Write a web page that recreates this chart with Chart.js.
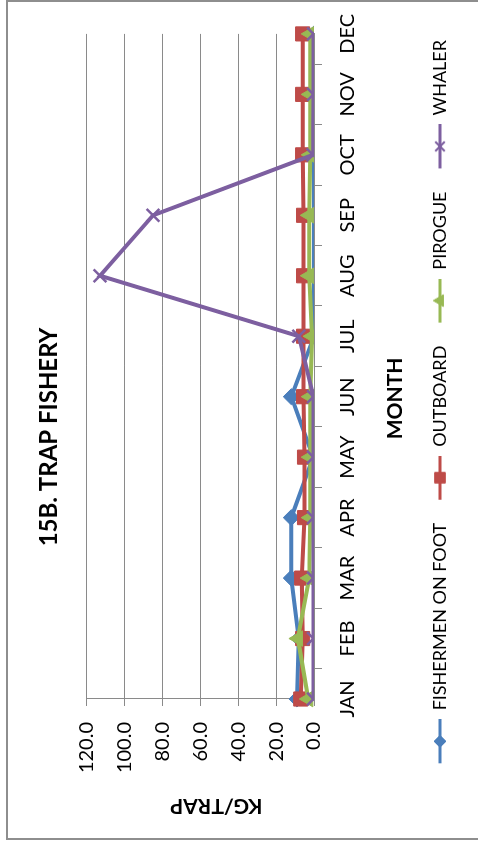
<!DOCTYPE html>
<html>
<head>
<meta charset="utf-8">
<script src="https://cdn.jsdelivr.net/npm/chart.js@4.4.1/dist/chart.umd.min.js"></script>
<style>
  html, body { margin: 0; padding: 0; background: #fff; overflow: hidden; }
  #page {
    position: absolute; left: 0; top: 0; width: 844px; height: 478px;
    transform-origin: 0 0; transform: translateY(844px) rotate(-90deg);
  }
  #frame {
    position: absolute; left: 4px; top: 6px; width: 840px; height: 490px;
    border: 2px solid #8e8e8e; box-sizing: border-box;
  }
  #chart { position: absolute; left: 0; top: 0; width: 844px; height: 478px; }
</style>
</head>
<body>
<div id="page">
  <div id="frame"></div>
  <canvas id="chart" width="844" height="478"></canvas>
</div>
<script>
const months = ["JAN", "FEB", "MAR", "APR", "MAY", "JUN", "JUL", "AUG", "SEP", "OCT", "NOV", "DEC"];
const seriesNames = ["FISHERMEN ON FOOT", "OUTBOARD", "PIROGUE", "WHALER"];
const footValues = [9, 8, 12, 12, 0.5, 12, 0, 0, 0, 0, 0, 0];
const outboardValues = [7, 6, 6.5, 5, 5, 5.5, 5.5, 5.5, 5.5, 6, 6, 6];
const pirogueValues = [3, 8.5, 2.5, 2, 2, 2, 1, 2.5, 2.5, 2, 2, 2];
const whalerValues = [0.3, 0.3, 0.3, 0.3, 0.3, 0.3, 8, 113, 85, 0.5, 0.3, 0.3];
const yMin = 0, yMax = 120, yStep = 20;

const colors = ["#4a7ebb", "#be4b48", "#98b954", "#7d5fa0"];
const markers = ["rectRot", "rect", "triangle", "crossRot"];
const markerSizes = [8, 10, 9, 9];
const FONT = "Lato";
const LEGEND_GAP = 13;   // empty space before each legend sample
const SAMPLE_W = 44;     // length of the legend line sample

// line + marker picture for each legend entry (blank gap on its left)
const makeIcon = (i) => {
    const c = document.createElement("canvas");
    c.width = LEGEND_GAP + SAMPLE_W;
    c.height = 18;
    const ctx = c.getContext("2d");
    ctx.strokeStyle = colors[i];
    ctx.lineWidth = 3;
    ctx.beginPath();
    ctx.moveTo(LEGEND_GAP, 9);
    ctx.lineTo(LEGEND_GAP + SAMPLE_W, 9);
    ctx.stroke();
    ctx.fillStyle = colors[i];
    ctx.lineWidth = markers[i] === "crossRot" ? 2 : 1;
    Chart.helpers.drawPoint(ctx, {pointStyle: markers[i], radius: markerSizes[i] * 0.75, rotation: 0, borderWidth: ctx.lineWidth}, LEGEND_GAP + SAMPLE_W / 2, 9);
    return c;
};
const icons = seriesNames.map((n, i) => makeIcon(i));

// move an axis title a little, the way the original places it
const shiftTitle = (scale, dx, dy) => {
    if (scale._titleShifted) return;
    const draw = scale.drawTitle;
    scale.drawTitle = function () {
        this.ctx.save();
        this.ctx.translate(dx, dy);
        draw.call(this);
        this.ctx.restore();
    };
    scale._titleShifted = true;
};

const allValues = [footValues, outboardValues, pirogueValues, whalerValues];
const datasets = allValues.map((values, i) => ({
    label: seriesNames[i],
    data: values,
    borderColor: colors[i],
    backgroundColor: colors[i],
    borderWidth: 4,
    tension: 0,
    pointStyle: markers[i],
    pointRadius: markerSizes[i],
    pointBorderWidth: markers[i] === "crossRot" ? 2.5 : 1,
    pointBackgroundColor: colors[i],
    pointBorderColor: colors[i],
    order: 4 - i
}));

new Chart(document.getElementById("chart"), {
    type: "line",
    data: {labels: months, datasets: datasets},
    options: {
        responsive: false,
        animation: false,
        layout: {padding: {left: 0, right: 30, top: 0, bottom: 19}},
        plugins: {
            tooltip: {enabled: false},
            title: {
                display: true,
                text: "15B. TRAP FISHERY",
                color: "#000",
                font: {family: FONT, size: 24, weight: "bold"},
                padding: {top: 35, bottom: 23}
            },
            legend: {
                position: "bottom",
                align: "end",
                labels: {
                    usePointStyle: true,
                    pointStyleWidth: LEGEND_GAP + SAMPLE_W,
                    color: "#000",
                    font: {family: FONT, size: 18},
                    padding: 10,
                    generateLabels: (chart) => {
                        const items = Chart.defaults.plugins.legend.labels.generateLabels(chart);
                        items.forEach(item => { item.pointStyle = icons[item.datasetIndex]; });
                        return items.sort((a, b) => a.datasetIndex - b.datasetIndex);
                    }
                }
            }
        },
        scales: {
            x: {
                afterFit: (scale) => {
                    scale.height = 107;
                    shiftTitle(scale, -32, 0);
                },
                grid: {display: true, drawOnChartArea: false, offset: true, tickLength: 8, color: "#8a8a8a"},
                border: {display: true, color: "#8a8a8a"},
                ticks: {color: "#000", font: {family: FONT, size: 20}, padding: 14, autoSkip: false, maxRotation: 0},
                title: {display: true, text: "MONTH", color: "#000", font: {family: FONT, size: 21, weight: "bold"}, padding: {top: 0, bottom: 13}}
            },
            y: {
                min: yMin,
                max: yMax,
                afterFit: (scale) => {
                    scale.width = 145;
                    shiftTitle(scale, 0, 16);
                },
                grid: {color: "#8a8a8a", tickLength: 7},
                border: {display: true, color: "#8a8a8a"},
                ticks: {
                    stepSize: yStep,
                    color: "#000",
                    font: {family: FONT, size: 20},
                    padding: 16,
                    callback: (value) => value.toFixed(1)
                },
                title: {display: true, text: "KG/TRAP", color: "#000", font: {family: FONT, size: 21, weight: "bold"}, padding: {top: 26, bottom: 0}}
            }
        }
    }
});
</script>
</body>
</html>
